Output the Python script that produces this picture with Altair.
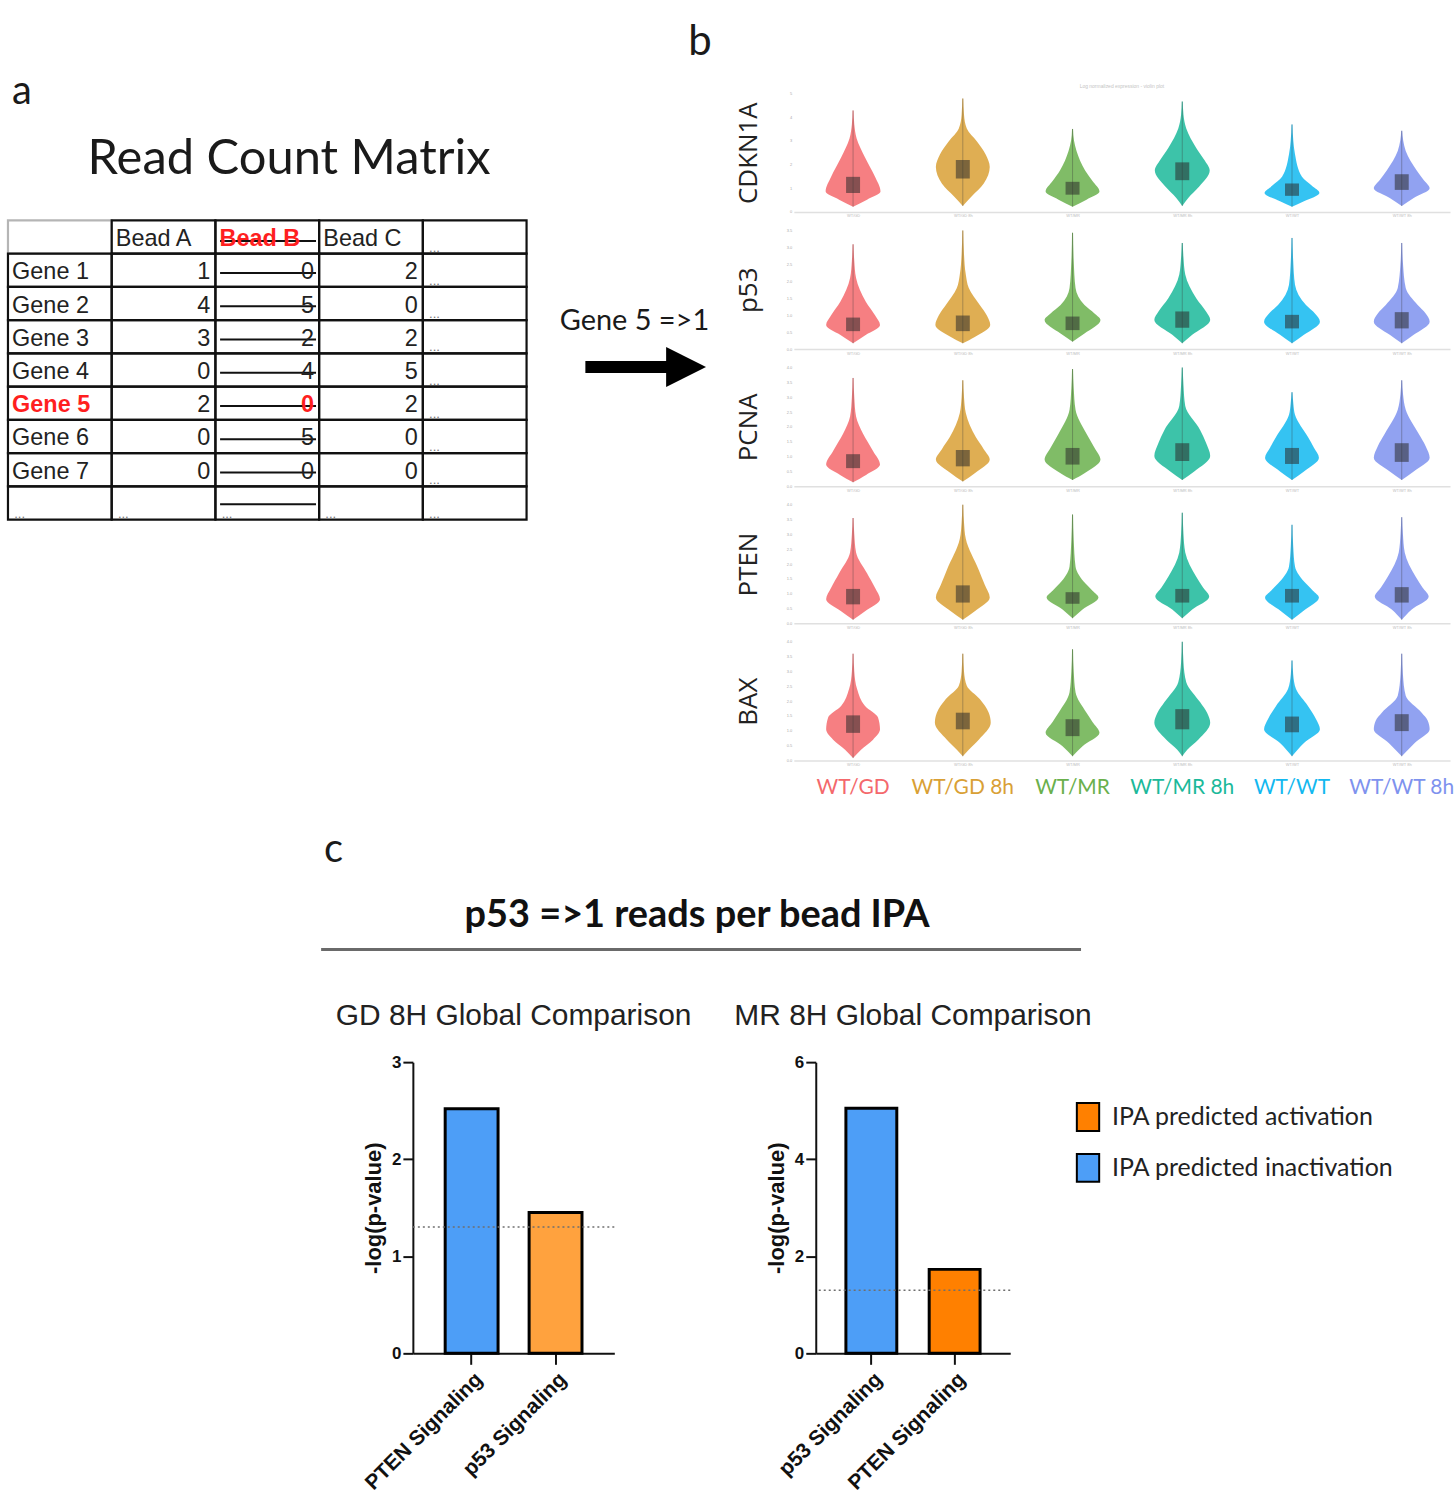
import altair as alt
import pandas as pd

# ------------------------------------------------------------------ panel a data
BEADS = ["Bead A", "Bead B", "Bead C"]
GENES = ["Gene 1", "Gene 2", "Gene 3", "Gene 4", "Gene 5", "Gene 6", "Gene 7"]
BEAD_A = [1, 4, 3, 0, 2, 0, 0]
BEAD_B = [0, 5, 2, 4, 0, 5, 0]
BEAD_C = [2, 0, 2, 5, 2, 0, 0]
DROPPED_BEAD = "Bead B"
FLAGGED_GENE = "Gene 5"
ELLIPSIS = "..."
TABLE_TITLE = "Read Count Matrix"
FILTER_NOTE = "Gene 5 =>1"

# ------------------------------------------------------------------ panel b data
GROUPS = ["WT/GD", "WT/GD 8h", "WT/MR", "WT/MR 8h", "WT/WT", "WT/WT 8h"]
GROUP_COLORS = ["#f4686c", "#d9a035", "#6ab04c", "#1bb99a", "#12b8f0", "#7e92ee"]
MARKERS = ["CDKN1A", "p53", "PCNA", "PTEN", "BAX"]
Y_MAX = {"CDKN1A": 5, "p53": 3.5, "PCNA": 4, "PTEN": 4, "BAX": 4}
Y_STEP = {"CDKN1A": 1, "p53": 0.5, "PCNA": 0.5, "PTEN": 0.5, "BAX": 0.5}

# violin outlines: (expression level, half width of the density)
VIOLIN_KNOTS = {
    "CDKN1A": [
        [(0.22, 0), (0.52, 14), (0.86, 27.5), (1.48, 22), (2.3, 12), (3.11, 3.5), (3.7, 1.2), (4.28, 0.5)],
        [(0.25, 0), (0.66, 9), (1.2, 21), (1.89, 27), (2.43, 22.8), (2.98, 14), (3.52, 4), (4.1, 1.2), (4.78, 0.5)],
        [(0.22, 0), (0.52, 14), (0.86, 27), (1.3, 20), (1.75, 12.6), (2.57, 4), (3.0, 1.5), (3.5, 0.5)],
        [(0.25, 0), (0.59, 6), (1.07, 17), (1.75, 27.5), (2.2, 22), (2.7, 14), (3.52, 4), (4.1, 1.2), (4.65, 0.5)],
        [(0.22, 0), (0.45, 12), (0.8, 27.5), (1.1, 20), (1.48, 10), (2.43, 3), (3.0, 1.3), (3.69, 0.5)],
        [(0.25, 0), (0.59, 12), (1.0, 28), (1.35, 22), (1.75, 15), (2.57, 4), (3.0, 1.5), (3.42, 0.5)],
    ],
    "p53": [
        [(0.17, 0), (0.42, 13), (0.71, 27), (1.0, 22), (1.4, 12.8), (2.1, 3), (2.6, 1.2), (3.09, 0.5)],
        [(0.17, 0), (0.36, 12), (0.71, 27.5), (1.0, 24), (1.3, 17), (1.8, 6), (2.2, 3), (2.8, 1.2), (3.5, 0.5)],
        [(0.22, 0), (0.46, 12), (0.86, 28), (1.05, 22), (1.3, 12), (1.8, 3), (2.6, 1.2), (3.43, 0.5)],
        [(0.17, 0), (0.42, 10), (0.86, 28), (1.1, 24), (1.5, 14), (2.2, 3), (2.7, 1.2), (3.13, 0.5)],
        [(0.17, 0), (0.42, 12), (0.81, 28), (1.05, 23), (1.3, 14), (1.9, 3), (2.6, 1.2), (3.28, 0.5)],
        [(0.17, 0), (0.42, 12), (0.81, 28), (1.05, 24), (1.3, 16), (1.8, 4), (2.5, 1.3), (3.13, 0.5)],
    ],
    "PCNA": [
        [(0.13, 0), (0.38, 13), (0.73, 27), (1.19, 20), (1.77, 10), (2.35, 3), (3.0, 1.2), (3.65, 0.5)],
        [(0.16, 0), (0.44, 12), (0.9, 27), (1.25, 21), (1.66, 13), (2.47, 3), (3.0, 1.2), (3.57, 0.5)],
        [(0.21, 0), (0.44, 12), (0.9, 28), (1.3, 22), (1.77, 14), (2.58, 3), (3.3, 1.2), (3.95, 0.5)],
        [(0.21, 0), (0.5, 12), (1.02, 28), (1.45, 24), (1.89, 18), (2.7, 3), (3.4, 1.2), (4.0, 0.5)],
        [(0.21, 0), (0.5, 12), (0.96, 27), (1.3, 22), (1.66, 16), (2.41, 3), (2.8, 1.3), (3.17, 0.5)],
        [(0.21, 0), (0.5, 12), (0.96, 28), (1.35, 24), (1.77, 17), (2.58, 4), (3.1, 1.3), (3.57, 0.5)],
    ],
    "PTEN": [
        [(0.12, 0), (0.41, 12), (0.81, 27), (1.2, 22), (1.69, 14), (2.39, 3), (3.0, 1.2), (3.55, 0.5)],
        [(0.12, 0), (0.41, 12), (0.87, 27), (1.3, 22), (1.8, 16), (2.85, 3), (3.4, 1.2), (4.0, 0.5)],
        [(0.17, 0), (0.47, 10), (0.87, 26), (1.1, 20), (1.34, 13), (1.92, 3), (2.8, 1.2), (3.67, 0.5)],
        [(0.17, 0), (0.47, 10), (0.9, 27), (1.2, 21), (1.57, 14), (2.39, 3), (3.0, 1.2), (3.73, 0.5)],
        [(0.12, 0), (0.41, 11), (0.87, 27), (1.1, 21), (1.34, 14), (1.92, 3), (2.6, 1.2), (3.32, 0.5)],
        [(0.12, 0), (0.47, 10), (0.9, 27), (1.2, 21), (1.57, 14), (2.39, 3), (3.0, 1.2), (3.58, 0.5)],
    ],
    "BAX": [
        [(0.08, 0), (0.36, 8), (0.7, 20), (1.05, 27), (1.45, 25), (1.84, 12), (2.41, 4), (3.0, 1.2), (3.6, 0.5)],
        [(0.14, 0), (0.36, 6), (0.7, 16), (1.27, 28), (1.61, 26), (2.07, 17), (2.52, 4), (3.0, 1.2), (3.6, 0.5)],
        [(0.14, 0), (0.48, 10), (0.93, 27), (1.3, 20), (1.61, 14), (2.3, 3), (3.0, 1.2), (3.75, 0.5)],
        [(0.14, 0), (0.36, 5), (0.7, 16), (1.27, 28), (1.6, 25), (1.96, 18), (2.64, 4), (3.3, 1.2), (4.0, 0.5)],
        [(0.14, 0), (0.59, 12), (1.05, 28), (1.4, 24), (1.84, 16), (2.41, 4), (2.9, 1.2), (3.37, 0.5)],
        [(0.14, 0), (0.59, 13), (1.05, 28), (1.35, 26), (1.61, 20), (2.18, 4), (2.9, 1.2), (3.6, 0.5)],
    ],
}
VIOLIN_BOX = {
    "CDKN1A": [(0.8, 1.48), (1.41, 2.19), (0.73, 1.27), (1.34, 2.09), (0.68, 1.2), (0.93, 1.59)],
    "p53": [(0.53, 0.93), (0.53, 0.99), (0.56, 0.96), (0.63, 1.11), (0.61, 1.01), (0.61, 1.09)],
    "PCNA": [(0.61, 1.08), (0.67, 1.22), (0.73, 1.29), (0.85, 1.45), (0.75, 1.29), (0.82, 1.45)],
    "PTEN": [(0.64, 1.16), (0.7, 1.28), (0.66, 1.05), (0.7, 1.16), (0.7, 1.16), (0.7, 1.22)],
    "BAX": [(0.93, 1.52), (1.05, 1.61), (0.82, 1.39), (1.05, 1.73), (0.95, 1.48), (0.99, 1.56)],
}
VIOLIN_TITLE = "Log normalized expression - violin plot"

# ------------------------------------------------------------------ panel c data
PANEL_C_TITLE = "p53 =>1 reads per bead IPA"
STATES = ["IPA predicted  activation", "IPA predicted  inactivation"]
GD_TITLE = "GD 8H Global Comparison"
GD_PATHWAYS = ["PTEN Signaling", "p53 Signaling"]
GD_VALUES = [2.52, 1.45]
GD_STATE = [STATES[1], STATES[0]]
MR_TITLE = "MR 8H Global Comparison"
MR_PATHWAYS = ["p53 Signaling", "PTEN Signaling"]
MR_VALUES = [5.05, 1.73]
MR_STATE = [STATES[1], STATES[0]]
THRESHOLD = 1.301  # -log10(0.05)

CAL = "Lato"
ARIAL = "Liberation Sans"


def spacer(w, h):
    return alt.Chart(pd.DataFrame({"z": [0]})).mark_point(opacity=0, size=0).encode(
        x=alt.value(0), y=alt.value(0)).properties(width=w, height=h)


# ================================================================== panel a
XA = alt.Scale(domain=[-0.0769, 6.846], nice=False, zero=False)
YA = alt.Scale(domain=[-6.57, 9.33], nice=False, zero=False, reverse=True)

cell_rows = []
for r in range(9):
    for c in range(5):
        cell_rows.append(dict(c=c, c2=c + 1, r=r, r2=r + 1,
                              edge="#b5b5b5" if (r == 0 and c == 0) else "#111111"))
cells_df = pd.DataFrame(cell_rows)

txt = []
for j, b in enumerate(BEADS):
    txt.append(dict(x=j + 1.04, y=0.56, t=b, kind="left_red" if b == DROPPED_BEAD else "left"))
txt.append(dict(x=4.06, y=0.82, t=ELLIPSIS, kind="dots"))
for i, g in enumerate(GENES):
    r = i + 1
    txt.append(dict(x=0.04, y=r + 0.56, t=g, kind="left_red" if g == FLAGGED_GENE else "left"))
    for j, vals in enumerate([BEAD_A, BEAD_B, BEAD_C]):
        red = (g == FLAGGED_GENE and BEADS[j] == DROPPED_BEAD)
        txt.append(dict(x=j + 2 - 0.05, y=r + 0.56, t=str(vals[i]), kind="right_red" if red else "right"))
    txt.append(dict(x=4.06, y=r + 0.82, t=ELLIPSIS, kind="dots"))
for c in range(5):
    txt.append(dict(x=c + 0.06, y=8.82, t=ELLIPSIS, kind="dots"))
txt_df = pd.DataFrame(txt)

drop_col = BEADS.index(DROPPED_BEAD) + 1
strike_df = pd.DataFrame([dict(x=drop_col + 0.045, x2=drop_col + 0.97,
                               y=r + (0.62 if r == 0 else (0.54 if r == 8 else 0.58))) for r in range(9)])

cells = alt.Chart(cells_df).mark_rect(fillOpacity=0, strokeWidth=2.2).encode(
    x=alt.X("c:Q", scale=XA, axis=None), x2="c2:Q",
    y=alt.Y("r:Q", scale=YA, axis=None), y2="r2:Q",
    stroke=alt.Stroke("edge:N", scale=None))


def tlayer(kind, align, color, weight, size, font=ARIAL):
    return alt.Chart(txt_df).transform_filter(alt.datum.kind == kind).mark_text(
        align=align, baseline="middle", font=font, fontSize=size, fontWeight=weight, color=color
    ).encode(x=alt.X("x:Q", scale=XA, axis=None), y=alt.Y("y:Q", scale=YA, axis=None), text="t:N")


t_left = tlayer("left", "left", "#222222", "normal", 23.5)
t_left_red = tlayer("left_red", "left", "#ff1f1f", "bold", 23.5)
t_right = tlayer("right", "right", "#222222", "normal", 23.5)
t_right_red = tlayer("right_red", "right", "#ff1f1f", "bold", 23.5)
t_dots = tlayer("dots", "left", "#777777", "normal", 13)

strikes = alt.Chart(strike_df).mark_rule(color="#111111", strokeWidth=2).encode(
    x=alt.X("x:Q", scale=XA, axis=None), x2="x2:Q", y=alt.Y("y:Q", scale=YA, axis=None))

ann_df = pd.DataFrame([
    dict(x=0.04, y=-3.5, t="a", size=40, align="left"),
    dict(x=6.56, y=-4.98, t="b", size=42, align="left"),
    dict(x=2.71, y=-1.4, t=TABLE_TITLE, size=49, align="center"),
    dict(x=6.04, y=3.3, t=FILTER_NOTE, size=29, align="center"),
])
ann_left = alt.Chart(ann_df).transform_filter(alt.datum.align == "left").mark_text(
    align="left", baseline="alphabetic", font=CAL, color="#1a1a1a").encode(
    x=alt.X("x:Q", scale=XA, axis=None), y=alt.Y("y:Q", scale=YA, axis=None),
    text="t:N", size=alt.Size("size:Q", scale=None))
ann_center = alt.Chart(ann_df).transform_filter(alt.datum.align == "center").mark_text(
    align="center", baseline="alphabetic", font=CAL, color="#1a1a1a").encode(
    x=alt.X("x:Q", scale=XA, axis=None), y=alt.Y("y:Q", scale=YA, axis=None),
    text="t:N", size=alt.Size("size:Q", scale=None))

arrow_df = pd.DataFrame({"x": [5.567], "x2": [6.40], "y": [4.41], "hx": [6.538]})
shaft = alt.Chart(arrow_df).mark_rule(color="black", strokeWidth=12).encode(
    x=alt.X("x:Q", scale=XA, axis=None), x2="x2:Q", y=alt.Y("y:Q", scale=YA, axis=None))
head = alt.Chart(arrow_df).mark_point(shape="M-1,-1L1,0L-1,1Z", filled=True, size=1600,
                                      color="black", opacity=1).encode(
    x=alt.X("hx:Q", scale=XA, axis=None), y=alt.Y("y:Q", scale=YA, axis=None))

panel_a = alt.layer(cells, strikes, t_left, t_left_red, t_right, t_right_red, t_dots,
                    ann_left, ann_center, shaft, head).properties(width=720, height=530)

# ================================================================== panel b
XB = alt.Scale(domain=[-0.04, 5.94], nice=False, zero=False)
COLOR_B = alt.Scale(domain=GROUPS, range=GROUP_COLORS)
LABEL_EXPR = "[" + ",".join("'%s'" % g for g in GROUPS) + "][floor(datum.value)]"


def violin_row(gene, first, last):
    ymax, step = Y_MAX[gene], Y_STEP[gene]
    ticks = [round(k * step, 2) for k in range(int(round(ymax / step)) + 1)]
    ys = alt.Scale(domain=[0, ymax], nice=False, zero=False)
    recs = []
    for g, knots in enumerate(VIOLIN_KNOTS[gene]):
        for v, w in knots:
            recs.append({"cond": GROUPS[g], "pos": g + 0.5, "v": v, "w": w})
    dens = pd.DataFrame(recs)
    boxes = pd.DataFrame([{"cond": GROUPS[g], "pos": g + 0.5, "lo": lo, "hi": hi,
                           "bot": VIOLIN_KNOTS[gene][g][0][0], "top": VIOLIN_KNOTS[gene][g][-1][0]}
                          for g, (lo, hi) in enumerate(VIOLIN_BOX[gene])])
    yaxis = alt.Axis(values=ticks, title=gene, titleFont="Open Sans", titleFontSize=26,
                     titleFontWeight="normal", titleColor="#222222", titlePadding=24,
                     labelFontSize=4, labelColor="#aaaaaa", labelPadding=2, ticks=False,
                     domain=False, grid=False, minExtent=8, maxExtent=8)
    xaxis = alt.Axis(values=[g + 0.5 for g in range(6)], labelExpr=LABEL_EXPR, labelFontSize=4,
                     labelColor="#bbbbbb", labelPadding=2, ticks=False, domainColor="#e0e0e0",
                     domainWidth=1.5, grid=False, title=None)
    area = alt.Chart(dens).transform_calculate(
        left="datum.pos - datum.w / 110", right="datum.pos + datum.w / 110"
    ).mark_area(orient="horizontal", interpolate="monotone", opacity=0.85).encode(
        y=alt.Y("v:Q", scale=ys, axis=yaxis),
        x=alt.X("left:Q", scale=XB, axis=xaxis, stack=None),
        x2="right:Q",
        color=alt.Color("cond:N", scale=COLOR_B, legend=None),
    )
    whisk = alt.Chart(boxes).mark_rule(color="#3a3a3a", opacity=0.35, strokeWidth=1).encode(
        x=alt.X("pos:Q", scale=XB, axis=xaxis), y=alt.Y("bot:Q", scale=ys, axis=yaxis), y2="top:Q")
    box = alt.Chart(boxes).transform_calculate(
        bl="datum.pos - 7 / 110", br="datum.pos + 7 / 110"
    ).mark_rect(color="#2a2a2a", opacity=0.55).encode(
        x=alt.X("bl:Q", scale=XB, axis=xaxis), x2="br:Q",
        y=alt.Y("lo:Q", scale=ys, axis=yaxis), y2="hi:Q")
    layers = [area, whisk, box]
    if last:
        lab_df = pd.DataFrame({"cond": GROUPS, "pos": [g + 0.5 for g in range(6)], "ly": [-0.92] * 6})
        labels = alt.Chart(lab_df).mark_text(font=CAL, fontSize=21, baseline="middle").encode(
            x=alt.X("pos:Q", scale=XB, axis=xaxis), y=alt.Y("ly:Q", scale=ys, axis=yaxis),
            text="cond:N", color=alt.Color("cond:N", scale=COLOR_B, legend=None))
        layers.append(labels)
    ch = alt.layer(*layers).properties(width=658, height=119)
    if first:
        ch = ch.properties(title=alt.TitleParams(VIOLIN_TITLE, fontSize=5, color="#c4c4c4",
                                                 fontWeight="normal", offset=2, frame="group"))
    return ch


rows_b = [violin_row(g, i == 0, i == len(MARKERS) - 1) for i, g in enumerate(MARKERS)]
panel_b = alt.vconcat(spacer(300, 72), *rows_b, spacing=10.5)

top_row = alt.hconcat(panel_a, panel_b, spacing=18)

# ================================================================== panel c
XH = alt.Scale(domain=[0, 762], nice=False, zero=False)
YH = alt.Scale(domain=[0, 127], nice=False, zero=False, reverse=True)
head_df = pd.DataFrame([
    dict(x=3, y=35, t="c", align="left"),
    dict(x=377, y=100, t=PANEL_C_TITLE, align="center"),
])
c_letter = alt.Chart(head_df).transform_filter(alt.datum.align == "left").mark_text(
    align="left", baseline="alphabetic", font=CAL, fontSize=40, color="#1a1a1a").encode(
    x=alt.X("x:Q", scale=XH, axis=None), y=alt.Y("y:Q", scale=YH, axis=None), text="t:N")
c_title = alt.Chart(head_df).transform_filter(alt.datum.align == "center").mark_text(
    align="center", baseline="alphabetic", font=CAL, fontSize=38, fontWeight="bold",
    color="#111111").encode(
    x=alt.X("x:Q", scale=XH, axis=None), y=alt.Y("y:Q", scale=YH, axis=None), text="t:N")
uline = alt.Chart(pd.DataFrame({"x": [0], "x2": [762], "y": [123]})).mark_rule(
    color="#6a6a6a", strokeWidth=3).encode(
    x=alt.X("x:Q", scale=XH, axis=None), x2="x2:Q", y=alt.Y("y:Q", scale=YH, axis=None))
header_c = alt.layer(c_letter, c_title, uline).properties(width=762, height=127)


def y_axis(vals):
    return alt.Axis(values=vals, title="-log(p-value)", titleFont=ARIAL, titleFontWeight="bold",
                    titleFontSize=22, titleColor="#111111", titlePadding=6,
                    labelFont=ARIAL, labelFontWeight="bold", labelFontSize=17, labelColor="#111111",
                    labelPadding=2, tickSize=10, tickWidth=2, tickColor="#111111",
                    domainWidth=2, domainColor="#111111", grid=False)


X_AXIS_C = alt.Axis(title=None, labelAngle=-45, labelFont=ARIAL, labelFontWeight="bold",
                    labelFontSize=21, labelColor="#111111", labelPadding=4, labelLimit=400,
                    tickSize=11, tickWidth=2, tickColor="#111111", domainWidth=2,
                    domainColor="#111111", grid=False)


def bar_panel(title, paths, vals, states, ymax, yvals, width, pin, pout, colors, legend):
    df = pd.DataFrame({"pathway": paths, "logp": vals, "state": states})
    yax = y_axis(yvals)
    ysc = alt.Scale(domain=[0, ymax], nice=False)
    bars = alt.Chart(df).mark_bar(stroke="black", strokeWidth=3).encode(
        x=alt.X("pathway:N", sort=paths, scale=alt.Scale(paddingInner=pin, paddingOuter=pout),
                axis=X_AXIS_C),
        y=alt.Y("logp:Q", scale=ysc, axis=yax),
        color=alt.Color("state:N", scale=alt.Scale(domain=STATES, range=colors), legend=legend),
    )
    thr = alt.Chart(pd.DataFrame({"t": [THRESHOLD]})).mark_rule(
        strokeDash=[2, 3], color="#6f6f6f", strokeWidth=1.5).encode(
        y=alt.Y("t:Q", scale=ysc, axis=yax))
    return alt.layer(bars, thr).properties(
        width=width, height=292,
        title=alt.TitleParams(title, font=ARIAL, fontSize=30, fontWeight="normal",
                              color="#222222", frame="group", anchor="middle", offset=22))


legend_c = alt.Legend(title=None, orient="none", legendX=258, legendY=40,
                      symbolType="M-0.8,-1H0.8V1H-0.8Z", symbolSize=784,
                      symbolStrokeColor="black", symbolStrokeWidth=2, symbolOpacity=1,
                      labelFont=CAL, labelFontSize=25, labelColor="#222222", labelOffset=9,
                      rowPadding=15, labelLimit=400)

bar_left = bar_panel(GD_TITLE, GD_PATHWAYS, GD_VALUES, GD_STATE, 3, [0, 1, 2, 3], 202,
                     0.37, 0.385, ["#ffa23e", "#4d9ef7"], None)
bar_right = bar_panel(MR_TITLE, MR_PATHWAYS, MR_VALUES, MR_STATE, 6, [0, 2, 4, 6], 195,
                      0.389, 0.362, ["#ff8000", "#4d9ef7"], legend_c)

hrow1 = alt.hconcat(spacer(320, 10), header_c, spacing=0)
hrow2 = alt.hconcat(spacer(294, 10), bar_left, bar_right, spacing=42).resolve_scale(color="independent")
bottom_row = alt.vconcat(hrow1, hrow2, spacing=48)

chart = alt.vconcat(top_row, bottom_row, spacing=29).properties(
    padding={"left": 0, "top": 0, "right": 0, "bottom": 0}, background="white"
).configure_view(strokeWidth=0, stroke="transparent")

chart.save("out.html", embed_options={"renderer": "svg", "actions": False})
